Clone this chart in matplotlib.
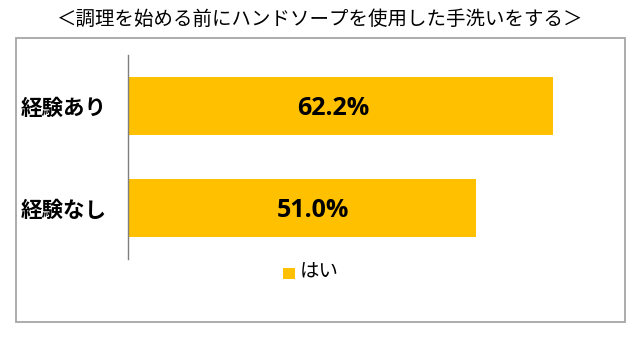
import matplotlib
matplotlib.use("Agg")
import matplotlib.pyplot as plt
from matplotlib.patches import Rectangle

plt.rcParams['font.family'] = ['Noto Sans CJK JP', 'DejaVu Sans']

title = "＜調理を始める前にハンドソープを使用した手洗いをする＞"
categories = ["経験あり", "経験なし"]
values = [62.2, 51.0]
series_name = "はい"
bar_color = "#FFC000"

W, H = 640, 337
fig = plt.figure(figsize=(W / 100, H / 100), dpi=100)

# outer chart frame
fig.patches.append(Rectangle((16 / W, 1 - 322 / H), (625 - 16) / W, (322 - 38) / H,
                             transform=fig.transFigure, fill=False,
                             edgecolor="#a6a6a6", linewidth=1.3))

fig.text(0.5, 1 - 19 / H, title, ha="center", va="center", fontsize=14, color="#000000")

ax = fig.add_axes([128 / W, 1 - 259 / H, (606 - 128) / W, (259 - 55) / H])
ypos = list(range(len(categories)))
ax.barh(ypos, values, height=0.57, color=bar_color, edgecolor="none")
ax.set_xlim(0, 70)
ax.set_ylim(len(categories) - 0.5, -0.5)

for s in ["top", "right", "bottom"]:
    ax.spines[s].set_visible(False)
ax.spines["left"].set_color("#7f7f7f")
ax.spines["left"].set_linewidth(1.0)
ax.set_xticks([])
ax.set_yticks(ypos)
ax.set_yticklabels(categories, fontsize=15.5, fontweight="bold", color="#000000")
ax.tick_params(axis="y", length=0, pad=15)

label_shift = [-7, 11]
for y, v, dx in zip(ypos, values, label_shift):
    ax.annotate(f"{v:.1f}%", xy=(v / 2, y), xytext=(dx * 0.72, -1.5),
                textcoords="offset points", ha="center", va="center",
                fontsize=18, fontweight="bold", color="#000000",
                family=["Open Sans", "DejaVu Sans"])

# legend
fig.patches.append(Rectangle((283 / W, 1 - 279 / H), 12 / W, 11 / H,
                             transform=fig.transFigure, facecolor=bar_color,
                             edgecolor="none"))
fig.text(300 / W, 1 - 272 / H, series_name, ha="left", va="center", fontsize=14)

fig.savefig("out.png", dpi=100)
